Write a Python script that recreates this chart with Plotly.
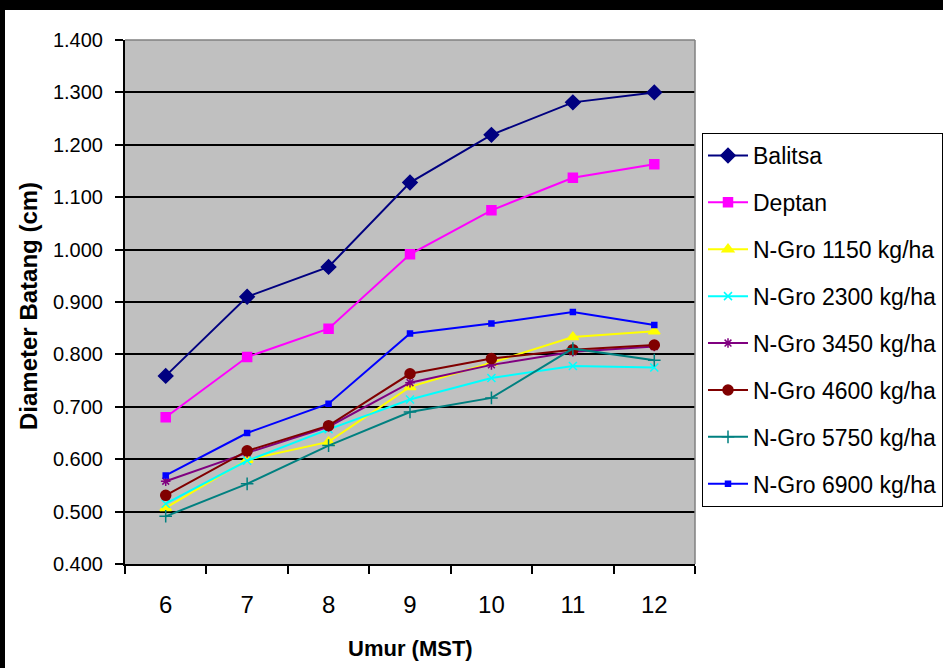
import plotly.graph_objects as go

weeks = [6, 7, 8, 9, 10, 11, 12]
week_labels = ["6", "7", "8", "9", "10", "11", "12"]

balitsa = [0.759, 0.910, 0.967, 1.128, 1.219, 1.281, 1.300]
deptan = [0.680, 0.795, 0.849, 0.991, 1.075, 1.137, 1.163]
ngro_1150 = [0.507, 0.599, 0.633, 0.738, 0.784, 0.833, 0.844]
ngro_2300 = [0.515, 0.597, 0.657, 0.714, 0.755, 0.778, 0.775]
ngro_3450 = [0.558, 0.612, 0.662, 0.746, 0.780, 0.805, 0.815]
ngro_4600 = [0.531, 0.616, 0.664, 0.763, 0.792, 0.809, 0.818]
ngro_5750 = [0.491, 0.553, 0.626, 0.690, 0.717, 0.811, 0.789]
ngro_6900 = [0.569, 0.650, 0.706, 0.840, 0.859, 0.881, 0.856]

series = [
    ("Balitsa", balitsa, "#000080", "diamond", 11),
    ("Deptan", deptan, "#FF00FF", "square", 9),
    ("N-Gro 1150 kg/ha", ngro_1150, "#FFFF00", "triangle-up", 10),
    ("N-Gro 2300 kg/ha", ngro_2300, "#00FFFF", "x-thin-open", 8),
    ("N-Gro 3450 kg/ha", ngro_3450, "#800080", "asterisk-open", 8),
    ("N-Gro 4600 kg/ha", ngro_4600, "#800000", "circle", 10),
    ("N-Gro 5750 kg/ha", ngro_5750, "#008080", "cross-thin-open", 9),
    ("N-Gro 6900 kg/ha", ngro_6900, "#0000FF", "square", 5),
]

fig = go.Figure()
for name, vals, color, sym, size in series:
    fig.add_trace(go.Scatter(
        x=weeks, y=vals, name=name, mode="lines+markers",
        legendgroup=name,
        line=dict(color=color, width=2),
        marker=dict(symbol=sym, size=size, color=color,
                    line=dict(color=color, width=1.5)),
    ))

W, H = 943, 668
L, R, T, B = 125, 248, 40, 104
pw, ph = W - L - R, H - T - B

def px_x(p):
    return (p - L) / pw

def px_y(p):
    return (H - B - p) / ph

font = "Liberation Sans, Arial, sans-serif"

fig.update_layout(
    width=W, height=H,
    margin=dict(l=L, r=R, t=T, b=B, autoexpand=False),
    paper_bgcolor="white",
    plot_bgcolor="#C0C0C0",
    font=dict(family=font, color="black"),
    showlegend=True,
    legend=dict(
        x=px_x(702), y=px_y(133), xanchor="left", yanchor="top",
        bgcolor="white", bordercolor="black", borderwidth=1,
        font=dict(size=23, family=font, color="black"),
        tracegroupgap=14, itemwidth=40,
    ),
    xaxis=dict(
        range=[5.5, 12.5], tickmode="array", tickvals=weeks, ticktext=week_labels,
        ticks="", showgrid=False, zeroline=False,
        showline=True, linecolor="black", linewidth=2,
        tickfont=dict(size=24, family=font),
        ticklabelstandoff=18,
        minor=dict(tickmode="linear", tick0=5.5, dtick=1, ticks="outside",
                   ticklen=8, tickcolor="black", tickwidth=1.5, showgrid=False),
    ),
    yaxis=dict(
        range=[0.4, 1.4], tickmode="linear", tick0=0.4, dtick=0.1,
        tickformat=".3f", ticks="outside", ticklen=8, tickcolor="black", tickwidth=1.5,
        showgrid=True, gridcolor="black", gridwidth=1.6, zeroline=False,
        showline=True, linecolor="black", linewidth=2,
        tickfont=dict(size=20, family=font),
        ticklabelstandoff=8,
    ),
    annotations=[
        dict(text="<b>Umur (MST)</b>", xref="paper", yref="paper",
             x=0.5, y=px_y(648), xanchor="center", yanchor="middle",
             showarrow=False, font=dict(size=22, family=font, color="black")),
        dict(text="<b>Diameter Batang (cm)</b>", xref="paper", yref="paper",
             x=px_x(28), y=px_y(306), xanchor="center", yanchor="middle",
             textangle=-90, showarrow=False,
             font=dict(size=24, family=font, color="black")),
    ],
    shapes=[
        dict(type="line", xref="paper", yref="paper", x0=1, x1=1, y0=0, y1=1,
             line=dict(color="#808080", width=1.5), layer="above"),
        dict(type="line", xref="paper", yref="paper", x0=0, x1=1, y0=1, y1=1,
             line=dict(color="#808080", width=1.5), layer="above"),
        dict(type="rect", xref="paper", yref="paper",
             x0=px_x(0), x1=px_x(W), y0=px_y(10), y1=px_y(0),
             fillcolor="black", line=dict(width=0), layer="above"),
        dict(type="rect", xref="paper", yref="paper",
             x0=px_x(0), x1=px_x(5), y0=px_y(H), y1=px_y(0),
             fillcolor="black", line=dict(width=0), layer="above"),
    ],
)

fig.write_html("out.html")
